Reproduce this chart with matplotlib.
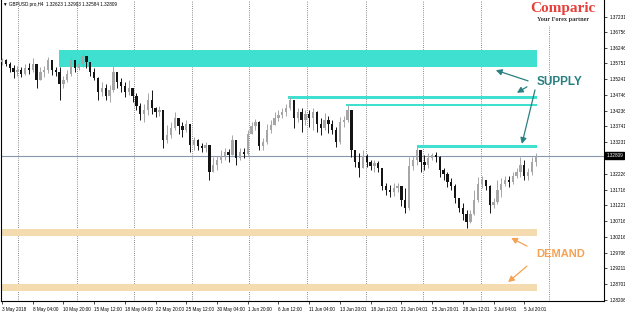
import matplotlib
matplotlib.use("Agg")
import matplotlib.pyplot as plt
from matplotlib.patches import Rectangle
from matplotlib.transforms import blended_transform_factory
import numpy as np

# GBPUSD H4, по две свечи H4 в одной (8 часов) - иначе слишком мелко
first_open = 1.3579
closes = [1.3586, 1.3573, 1.3560, 1.3547, 1.3554, 1.3541, 1.3560, 1.3554, 1.3573, 1.3522,
          1.3547, 1.3554, 1.3586, 1.3554, 1.3547, 1.3509, 1.3522, 1.3541, 1.3586, 1.3560,
          1.3573, 1.3598, 1.3579, 1.3547, 1.3528, 1.3484, 1.3496, 1.3471, 1.3490, 1.3547,
          1.3515, 1.3503, 1.3484, 1.3496, 1.3471, 1.3439, 1.3413, 1.3426, 1.3458, 1.3433,
          1.3420, 1.3426, 1.3330, 1.3346, 1.3369, 1.3401, 1.3375, 1.3362, 1.3381, 1.3314,
          1.3330, 1.3311, 1.3305, 1.3314, 1.3228, 1.3251, 1.3267, 1.3279, 1.3292, 1.3283,
          1.3330, 1.3273, 1.3292, 1.3286, 1.3350, 1.3375, 1.3388, 1.3311, 1.3324, 1.3362,
          1.3378, 1.3401, 1.3410, 1.3420, 1.3433, 1.3458, 1.3401, 1.3420, 1.3394, 1.3413,
          1.3401, 1.3420, 1.3381, 1.3369, 1.3394, 1.3381, 1.3362, 1.3324, 1.3388, 1.3394,
          1.3426, 1.3299, 1.3260, 1.3241, 1.3279, 1.3260, 1.3248, 1.3257, 1.3241, 1.3184,
          1.3171, 1.3165, 1.3177, 1.3184, 1.3139, 1.3114, 1.3248, 1.3267, 1.3299, 1.3260,
          1.3251, 1.3273, 1.3283, 1.3276, 1.3235, 1.3222, 1.3196, 1.3184, 1.3145, 1.3114,
          1.3094, 1.3069, 1.3094, 1.3139, 1.3190, 1.3203, 1.3184, 1.3123, 1.3133, 1.3171,
          1.3190, 1.3203, 1.3196, 1.3216, 1.3228, 1.3251, 1.3216, 1.3228, 1.3260, 1.32809]
highs = [1.3592, 1.3589, 1.3579, 1.3570, 1.3567, 1.3563, 1.3573, 1.3576, 1.3592, 1.3567,
         1.3563, 1.3567, 1.3595, 1.3579, 1.3563, 1.3563, 1.3535, 1.3554, 1.3595, 1.3576,
         1.3586, 1.3611, 1.3595, 1.3573, 1.3560, 1.3531, 1.3515, 1.3509, 1.3506, 1.3567,
         1.3547, 1.3528, 1.3515, 1.3522, 1.3496, 1.3480, 1.3448, 1.3445, 1.3480, 1.3490,
         1.3436, 1.3439, 1.3420, 1.3378, 1.3388, 1.3420, 1.3401, 1.3388, 1.3394, 1.3362,
         1.3340, 1.3334, 1.3321, 1.3324, 1.3299, 1.3276, 1.3279, 1.3299, 1.3305, 1.3302,
         1.3346, 1.3330, 1.3305, 1.3305, 1.3362, 1.3388, 1.3397, 1.3391, 1.3337, 1.3381,
         1.3394, 1.3420, 1.3426, 1.3433, 1.3445, 1.3468, 1.3458, 1.3433, 1.3433, 1.3426,
         1.3426, 1.3433, 1.3423, 1.3401, 1.3417, 1.3407, 1.3394, 1.3372, 1.3404, 1.3407,
         1.3442, 1.3426, 1.3299, 1.3289, 1.3299, 1.3286, 1.3267, 1.3267, 1.3263, 1.3241,
         1.3193, 1.3187, 1.3193, 1.3193, 1.3184, 1.3177, 1.3276, 1.3279, 1.3311, 1.3299,
         1.3283, 1.3289, 1.3289, 1.3292, 1.3279, 1.3241, 1.3228, 1.3209, 1.3190, 1.3145,
         1.3129, 1.3107, 1.3107, 1.3171, 1.3212, 1.3216, 1.3203, 1.3187, 1.3145, 1.3203,
         1.3209, 1.3216, 1.3216, 1.3228, 1.3241, 1.3276, 1.3267, 1.3241, 1.3276, 1.3289]
lows = [1.3570, 1.3567, 1.3547, 1.3528, 1.3535, 1.3531, 1.3538, 1.3541, 1.3547, 1.3496,
        1.3528, 1.3531, 1.3544, 1.3538, 1.3535, 1.3458, 1.3496, 1.3515, 1.3535, 1.3547,
        1.3554, 1.3563, 1.3560, 1.3535, 1.3522, 1.3458, 1.3471, 1.3458, 1.3452, 1.3484,
        1.3496, 1.3484, 1.3468, 1.3474, 1.3452, 1.3426, 1.3394, 1.3388, 1.3410, 1.3413,
        1.3404, 1.3407, 1.3305, 1.3321, 1.3337, 1.3362, 1.3350, 1.3340, 1.3356, 1.3292,
        1.3299, 1.3299, 1.3292, 1.3292, 1.3203, 1.3228, 1.3235, 1.3257, 1.3267, 1.3260,
        1.3292, 1.3251, 1.3267, 1.3273, 1.3283, 1.3356, 1.3362, 1.3299, 1.3299, 1.3318,
        1.3353, 1.3378, 1.3391, 1.3401, 1.3407, 1.3426, 1.3369, 1.3388, 1.3356, 1.3378,
        1.3372, 1.3362, 1.3356, 1.3346, 1.3362, 1.3353, 1.3350, 1.3308, 1.3318, 1.3372,
        1.3388, 1.3276, 1.3244, 1.3212, 1.3248, 1.3244, 1.3235, 1.3228, 1.3228, 1.3171,
        1.3155, 1.3149, 1.3152, 1.3165, 1.3120, 1.3098, 1.3107, 1.3235, 1.3251, 1.3228,
        1.3235, 1.3241, 1.3267, 1.3260, 1.3212, 1.3203, 1.3180, 1.3171, 1.3129, 1.3101,
        1.3075, 1.3050, 1.3066, 1.3091, 1.3133, 1.3177, 1.3171, 1.3098, 1.3114, 1.3126,
        1.3149, 1.3184, 1.3180, 1.3190, 1.3209, 1.3212, 1.3203, 1.3203, 1.3219, 1.3248]

date_labels = ['3 May 2018', '8 May 04:00', '10 May 20:00', '15 May 12:00', '18 May 04:00',
               '22 May 20:00', '25 May 12:00', '30 May 04:00', '1 Jun 20:00', '6 Jun 12:00',
               '11 Jun 04:00', '13 Jun 20:01', '18 Jun 12:01', '21 Jun 04:01', '25 Jun 20:01',
               '28 Jun 12:01', '3 Jul 04:01', '5 Jul 20:01']
price_ticks = [1.37231, 1.36756, 1.36246, 1.35751, 1.35241, 1.34746, 1.34236, 1.33741,
               1.33231, 1.32226, 1.31716, 1.31221, 1.30716, 1.30216, 1.29706, 1.29211,
               1.28701, 1.28206]
week_sep = [4.2, 19.5, 34.4, 49.5, 64.3, 79.4, 94.8, 109.6, 124.7, 142.4]
last_price = 1.32809

# зоны: (начало, конец, низ, верх)
supply_zones = [(14.8, 139.4, 1.3563, 1.3618),
                (74.5, 139.4, 1.3460, 1.3471),
                (89.6, 139.4, 1.3439, 1.3445),
                (108.0, 139.4, 1.3306, 1.3314)]
demand_zones = [(-0.3, 139.4, 1.3024, 1.3047),
                (-0.3, 139.4, 1.2849, 1.2871)]

FONT = 'Liberation Sans'
TEAL = '#2a8080'
ORANGE = '#f5a254'

fig = plt.figure(figsize=(6.25, 3.13), dpi=100)
ax = fig.add_axes([1 / 625, 12 / 313, 603 / 625, 301 / 313])
ax.set_xlim(-0.26, 156.77)
ax.set_ylim(1.28168, 1.3777)

# недельные разделители
for s in week_sep:
    ax.axvline(s, color='#666666', lw=0.6, ls=(0, (1, 1.6)), zorder=1)

for x0, x1, lo, hi in supply_zones:
    ax.add_patch(Rectangle((x0, lo), x1 - x0, hi - lo, color='#40e0d0', lw=0, zorder=2))
for x0, x1, lo, hi in demand_zones:
    ax.add_patch(Rectangle((x0, lo), x1 - x0, hi - lo, color='#f5dcb0', lw=0, zorder=2))

ax.axhline(last_price, color='#8796aa', lw=0.8, zorder=2)

# свечи
o = np.array([first_open] + closes[:-1])
c = np.array(closes)
h = np.maximum(np.array(highs), np.maximum(o, c))
l = np.minimum(np.array(lows), np.minimum(o, c))
x = np.arange(len(c))
col = np.where(c >= o, '#a6a6a6', '#141414')
ax.vlines(x, l, h, colors=col, lw=0.7, zorder=3)
body = np.maximum(np.abs(c - o), 0.00007)
ax.bar(x, body, bottom=np.minimum(o, c), width=0.6, color=col, lw=0, zorder=4)

# оси как в MT4
ax.yaxis.tick_right()
ax.set_yticks(price_ticks)
ax.set_yticklabels([f'{p:.5f}' for p in price_ticks])
ax.set_xticks(np.arange(0, 8 * len(date_labels), 8))
ax.set_xticklabels(date_labels, ha='left')
ax.tick_params(axis='both', direction='out', length=2.5, width=0.5, labelsize=3.3,
               pad=1.5, colors='black')
for t in ax.get_xticklabels() + ax.get_yticklabels():
    t.set_fontfamily(FONT)
ax.spines['top'].set_visible(False)
for sp in ['left', 'right', 'bottom']:
    ax.spines[sp].set_linewidth(0.8)

tr = blended_transform_factory(ax.transAxes, ax.transData)
ax.text(1.004, last_price, f'{last_price:.5f}', transform=tr, fontsize=3.3, family=FONT,
        color='white', va='center', ha='left', zorder=10,
        bbox=dict(boxstyle='square,pad=0.25', fc='black', ec='black'))

ax.text(0.004, 0.985, '\u25bc GBPUSD.pro,H4  1.32623 1.32903 1.32584 1.32809',
        transform=ax.transAxes, fontsize=3.3, family=[FONT, 'DejaVu Sans'],
        va='center', ha='left')

# логотип на белой подложке
ax.add_patch(Rectangle((0.872, 0.915), 0.122, 0.083, transform=ax.transAxes,
                       fc='white', ec='none', zorder=5))
ax.text(0.932, 0.972, 'Comparic', transform=ax.transAxes, fontsize=11,
        family='Liberation Serif', weight='bold', color='#e5403a', ha='center',
        va='center', zorder=6)
ax.text(0.932, 0.934, 'Your Forex partner', transform=ax.transAxes, fontsize=4.5,
        family='Liberation Serif', weight='bold', color='#333333', ha='center',
        va='center', zorder=7)

ax.text(145.3, 1.3515, 'SUPPLY', fontsize=8.5, family=FONT, weight='bold',
        color=TEAL, ha='center', va='center', zorder=6)
ax.text(145.6, 1.2967, 'DEMAND', fontsize=8, family=FONT, weight='bold',
        color=ORANGE, ha='center', va='center', zorder=6)

arrows = [((137.0, 1.3519), (128.6, 1.3553), TEAL),
          ((136.7, 1.3500), (134.1, 1.3481), TEAL),
          ((138.8, 1.3490), (135.4, 1.3318), TEAL),
          ((136.7, 1.2992), (132.6, 1.3018), ORANGE),
          ((136.7, 1.2928), (131.8, 1.2877), ORANGE)]
for start, end, cl in arrows:
    ax.annotate('', xy=end, xytext=start,
                arrowprops=dict(arrowstyle='-|>,head_length=0.35,head_width=0.18',
                                color=cl, lw=0.9, shrinkA=0, shrinkB=0), zorder=6)

fig.savefig('out.png', dpi=100, facecolor='white')
